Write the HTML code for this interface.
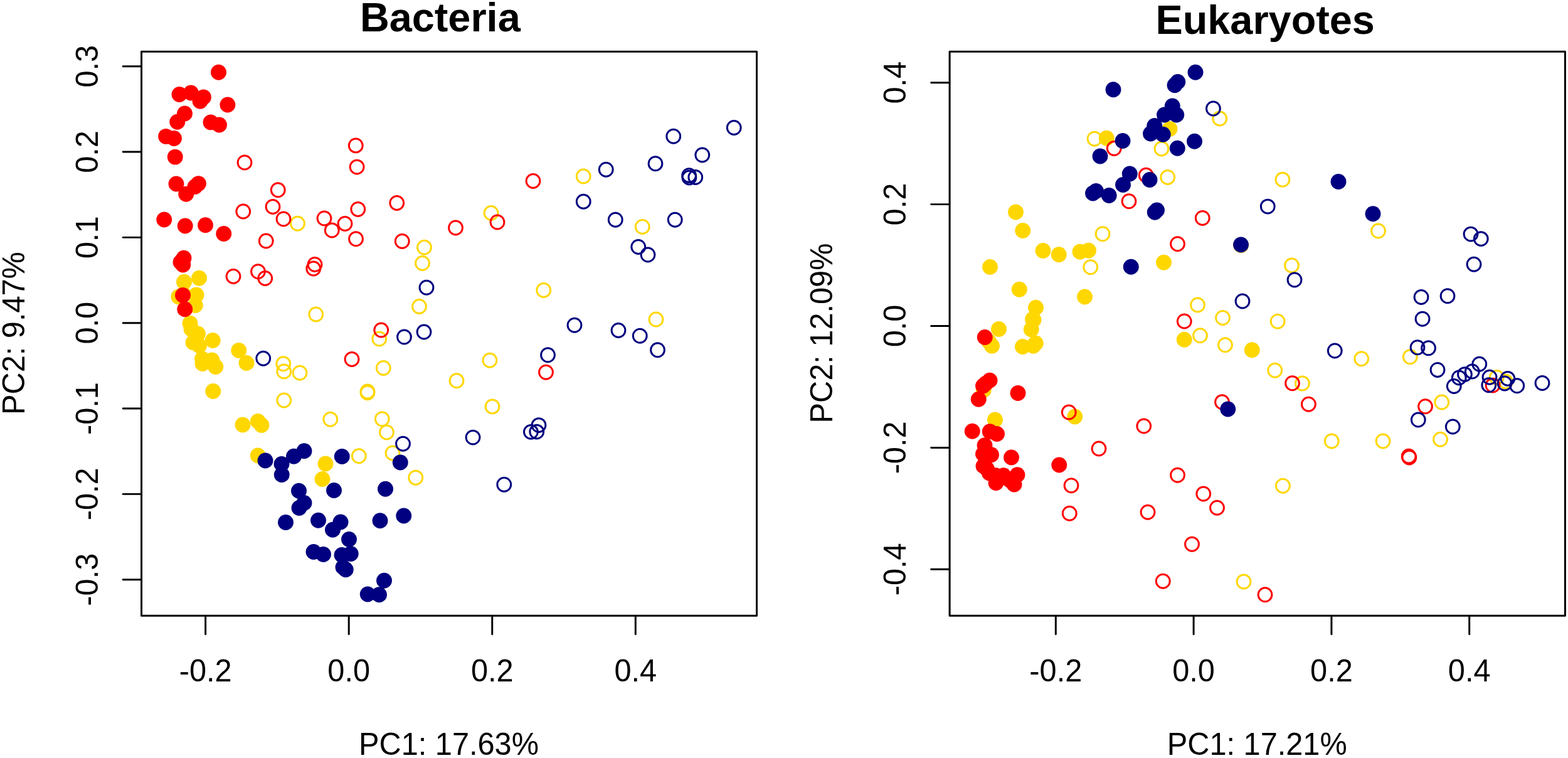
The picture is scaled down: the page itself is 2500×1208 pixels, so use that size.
<!DOCTYPE html>
<html lang="en"><head><meta charset="utf-8"><title>PCoA: Bacteria and Eukaryotes</title>
<style>
html,body{margin:0;padding:0;background:#fff;}
body{width:2500px;height:1208px;overflow:hidden;}
svg{display:block;}
text{font-family:"Liberation Sans",sans-serif;fill:#000;}
</style></head><body>
<svg width="2500" height="1208" viewBox="0 0 2500 1208">
<rect width="2500" height="1208" fill="#fff"/>
<g id="bacteria">
<g fill="#FFD700">
<circle cx="317.5" cy="443.25" r="12.45"/>
<circle cx="293.5" cy="449.25" r="12.45"/>
<circle cx="284.9" cy="472.9" r="12.45"/>
<circle cx="292.6" cy="469.1" r="12.45"/>
<circle cx="313" cy="470" r="12.45"/>
<circle cx="311.25" cy="486.5" r="12.45"/>
<circle cx="303" cy="515.25" r="12.45"/>
<circle cx="305" cy="524.5" r="12.45"/>
<circle cx="315.5" cy="532" r="12.45"/>
<circle cx="339.25" cy="542.5" r="12.45"/>
<circle cx="308" cy="545.75" r="12.45"/>
<circle cx="317.5" cy="550.75" r="12.45"/>
<circle cx="380.75" cy="558.5" r="12.45"/>
<circle cx="322.5" cy="572" r="12.45"/>
<circle cx="338" cy="574" r="12.45"/>
<circle cx="323" cy="579.5" r="12.45"/>
<circle cx="343.75" cy="584.5" r="12.45"/>
<circle cx="393" cy="578.5" r="12.45"/>
<circle cx="339.75" cy="623.5" r="12.45"/>
<circle cx="387" cy="677" r="12.45"/>
<circle cx="411.25" cy="671.5" r="12.45"/>
<circle cx="417" cy="677.5" r="12.45"/>
<circle cx="411.25" cy="726" r="12.45"/>
<circle cx="519" cy="739" r="12.45"/>
<circle cx="514" cy="763.5" r="12.45"/>
</g>
<g fill="none" stroke="#FFD700" stroke-width="3.0">
<circle cx="474.5" cy="356.25" r="10.9"/>
<circle cx="783" cy="339.5" r="10.9"/>
<circle cx="930.25" cy="281" r="10.9"/>
<circle cx="1024.25" cy="361.5" r="10.9"/>
<circle cx="676.5" cy="394.25" r="10.9"/>
<circle cx="673.5" cy="419.5" r="10.9"/>
<circle cx="668.5" cy="488.5" r="10.9"/>
<circle cx="503.75" cy="501" r="10.9"/>
<circle cx="604.75" cy="540" r="10.9"/>
<circle cx="451.75" cy="579.75" r="10.9"/>
<circle cx="452.75" cy="592" r="10.9"/>
<circle cx="478" cy="594.25" r="10.9"/>
<circle cx="611.25" cy="586.5" r="10.9"/>
<circle cx="780.9" cy="574.25" r="10.9"/>
<circle cx="728" cy="606.75" r="10.9"/>
<circle cx="586" cy="624" r="10.9"/>
<circle cx="586" cy="625.8" r="10.9"/>
<circle cx="452.75" cy="638" r="10.9"/>
<circle cx="785" cy="647.9" r="10.9"/>
<circle cx="526.75" cy="668.25" r="10.9"/>
<circle cx="609.25" cy="667.75" r="10.9"/>
<circle cx="616.5" cy="689" r="10.9"/>
<circle cx="572.25" cy="726.75" r="10.9"/>
<circle cx="626" cy="722" r="10.9"/>
<circle cx="662.75" cy="761.25" r="10.9"/>
<circle cx="866.75" cy="462.5" r="10.9"/>
<circle cx="1046" cy="509" r="10.9"/>
</g>
<g fill="#FF0000">
<circle cx="348.5" cy="115.25" r="12.45"/>
<circle cx="286" cy="150.5" r="12.45"/>
<circle cx="304.4" cy="148" r="12.45"/>
<circle cx="324.4" cy="154.9" r="12.45"/>
<circle cx="319.1" cy="161.25" r="12.45"/>
<circle cx="362.9" cy="167" r="12.45"/>
<circle cx="294.5" cy="181" r="12.45"/>
<circle cx="282.75" cy="194.25" r="12.45"/>
<circle cx="336" cy="194.9" r="12.45"/>
<circle cx="349.5" cy="199" r="12.45"/>
<circle cx="264.6" cy="217.4" r="12.45"/>
<circle cx="277.5" cy="220.5" r="12.45"/>
<circle cx="279.25" cy="250.1" r="12.45"/>
<circle cx="281" cy="293" r="12.45"/>
<circle cx="316.4" cy="292.6" r="12.45"/>
<circle cx="311" cy="297.5" r="12.45"/>
<circle cx="296.75" cy="309.25" r="12.45"/>
<circle cx="261.75" cy="350" r="12.45"/>
<circle cx="295.25" cy="360" r="12.45"/>
<circle cx="327.5" cy="358.75" r="12.45"/>
<circle cx="356.75" cy="372.5" r="12.45"/>
<circle cx="293" cy="411.25" r="12.45"/>
<circle cx="288" cy="417.75" r="12.45"/>
<circle cx="291.75" cy="422" r="12.45"/>
<circle cx="291.5" cy="470.5" r="12.45"/>
<circle cx="294.75" cy="492.75" r="12.45"/>
</g>
<g fill="none" stroke="#FF0000" stroke-width="3.0">
<circle cx="390" cy="259" r="10.9"/>
<circle cx="567.25" cy="231.9" r="10.9"/>
<circle cx="569.1" cy="266.1" r="10.9"/>
<circle cx="443.25" cy="302.75" r="10.9"/>
<circle cx="632.75" cy="323.5" r="10.9"/>
<circle cx="387.75" cy="337" r="10.9"/>
<circle cx="435" cy="329.5" r="10.9"/>
<circle cx="452" cy="349" r="10.9"/>
<circle cx="570.75" cy="333.5" r="10.9"/>
<circle cx="517" cy="348" r="10.9"/>
<circle cx="550" cy="356.5" r="10.9"/>
<circle cx="529.25" cy="367" r="10.9"/>
<circle cx="726.5" cy="363" r="10.9"/>
<circle cx="793" cy="354" r="10.9"/>
<circle cx="424.25" cy="384" r="10.9"/>
<circle cx="567.5" cy="380.75" r="10.9"/>
<circle cx="641.25" cy="384.5" r="10.9"/>
<circle cx="850" cy="288.5" r="10.9"/>
<circle cx="372" cy="440.5" r="10.9"/>
<circle cx="411.5" cy="432.75" r="10.9"/>
<circle cx="422.75" cy="443.5" r="10.9"/>
<circle cx="502" cy="421.5" r="10.9"/>
<circle cx="499.75" cy="428" r="10.9"/>
<circle cx="607.75" cy="526" r="10.9"/>
<circle cx="561" cy="572.5" r="10.9"/>
<circle cx="870.5" cy="593.25" r="10.9"/>
</g>
<g fill="#000080">
<circle cx="423" cy="734" r="12.45"/>
<circle cx="485" cy="718.75" r="12.45"/>
<circle cx="468.5" cy="727.25" r="12.45"/>
<circle cx="449" cy="739.5" r="12.45"/>
<circle cx="449.25" cy="756.5" r="12.45"/>
<circle cx="545.25" cy="727.5" r="12.45"/>
<circle cx="638.25" cy="737" r="12.45"/>
<circle cx="476.5" cy="782.25" r="12.45"/>
<circle cx="532.5" cy="781.5" r="12.45"/>
<circle cx="614.5" cy="779.25" r="12.45"/>
<circle cx="485" cy="801.5" r="12.45"/>
<circle cx="477" cy="809.5" r="12.45"/>
<circle cx="455.5" cy="832.5" r="12.45"/>
<circle cx="507.5" cy="829.25" r="12.45"/>
<circle cx="543" cy="832" r="12.45"/>
<circle cx="530.5" cy="844.25" r="12.45"/>
<circle cx="606" cy="829.75" r="12.45"/>
<circle cx="643.75" cy="822" r="12.45"/>
<circle cx="556.5" cy="859.5" r="12.45"/>
<circle cx="500" cy="879.5" r="12.45"/>
<circle cx="515.5" cy="883.5" r="12.45"/>
<circle cx="545" cy="884.5" r="12.45"/>
<circle cx="559.25" cy="882.5" r="12.45"/>
<circle cx="547" cy="904" r="12.45"/>
<circle cx="551.25" cy="907.75" r="12.45"/>
<circle cx="612.5" cy="925.25" r="12.45"/>
<circle cx="586.25" cy="947" r="12.45"/>
<circle cx="604.5" cy="947.75" r="12.45"/>
</g>
<g fill="none" stroke="#000080" stroke-width="3.0">
<circle cx="1170.25" cy="203.5" r="10.9"/>
<circle cx="1073.75" cy="217.25" r="10.9"/>
<circle cx="1119.75" cy="247" r="10.9"/>
<circle cx="1045" cy="260.75" r="10.9"/>
<circle cx="966.25" cy="270.25" r="10.9"/>
<circle cx="1098.6" cy="279.7" r="10.9"/>
<circle cx="1098.9" cy="283.1" r="10.9"/>
<circle cx="1108.75" cy="282.5" r="10.9"/>
<circle cx="930.25" cy="321.25" r="10.9"/>
<circle cx="981.25" cy="350.25" r="10.9"/>
<circle cx="1076.25" cy="350.25" r="10.9"/>
<circle cx="680" cy="458.25" r="10.9"/>
<circle cx="676" cy="529" r="10.9"/>
<circle cx="644.5" cy="537" r="10.9"/>
<circle cx="419.75" cy="571.25" r="10.9"/>
<circle cx="1017.75" cy="393.5" r="10.9"/>
<circle cx="1033" cy="406" r="10.9"/>
<circle cx="916" cy="518.25" r="10.9"/>
<circle cx="986" cy="526.5" r="10.9"/>
<circle cx="1020.25" cy="535.25" r="10.9"/>
<circle cx="1048.5" cy="557.75" r="10.9"/>
<circle cx="873.5" cy="565.75" r="10.9"/>
<circle cx="859" cy="677.6" r="10.9"/>
<circle cx="846.4" cy="688.3" r="10.9"/>
<circle cx="855.75" cy="688.1" r="10.9"/>
<circle cx="642.5" cy="707.25" r="10.9"/>
<circle cx="754" cy="697.1" r="10.9"/>
<circle cx="803.75" cy="772.25" r="10.9"/>
</g>
<rect x="225.55" y="82.2" width="981.00" height="899.10" fill="none" stroke="#000" stroke-width="3" stroke-linejoin="round"/>
<line x1="327.65" y1="981.70" x2="327.65" y2="1010.70" stroke="#000" stroke-width="2.95" stroke-linecap="round"/>
<text transform="translate(327.65 1086.1) scale(1 1.02)" text-anchor="middle" font-size="48.7">-0.2</text>
<line x1="556.2" y1="981.70" x2="556.2" y2="1010.70" stroke="#000" stroke-width="2.95" stroke-linecap="round"/>
<text transform="translate(556.2 1086.1) scale(1 1.02)" text-anchor="middle" font-size="48.7">0.0</text>
<line x1="784.75" y1="981.70" x2="784.75" y2="1010.70" stroke="#000" stroke-width="2.95" stroke-linecap="round"/>
<text transform="translate(784.75 1086.1) scale(1 1.02)" text-anchor="middle" font-size="48.7">0.2</text>
<line x1="1013.3" y1="981.70" x2="1013.3" y2="1010.70" stroke="#000" stroke-width="2.95" stroke-linecap="round"/>
<text transform="translate(1013.3 1086.1) scale(1 1.02)" text-anchor="middle" font-size="48.7">0.4</text>
<line x1="225.15" y1="105.7" x2="196.15" y2="105.7" stroke="#000" stroke-width="2.95" stroke-linecap="round"/>
<text transform="translate(155.75 105.7) rotate(-90) scale(1 1.02)" text-anchor="middle" font-size="48.7">0.3</text>
<line x1="225.15" y1="242.03" x2="196.15" y2="242.03" stroke="#000" stroke-width="2.95" stroke-linecap="round"/>
<text transform="translate(155.75 242.03) rotate(-90) scale(1 1.02)" text-anchor="middle" font-size="48.7">0.2</text>
<line x1="225.15" y1="378.37" x2="196.15" y2="378.37" stroke="#000" stroke-width="2.95" stroke-linecap="round"/>
<text transform="translate(155.75 378.37) rotate(-90) scale(1 1.02)" text-anchor="middle" font-size="48.7">0.1</text>
<line x1="225.15" y1="514.7" x2="196.15" y2="514.7" stroke="#000" stroke-width="2.95" stroke-linecap="round"/>
<text transform="translate(155.75 514.7) rotate(-90) scale(1 1.02)" text-anchor="middle" font-size="48.7">0.0</text>
<line x1="225.15" y1="651.03" x2="196.15" y2="651.03" stroke="#000" stroke-width="2.95" stroke-linecap="round"/>
<text transform="translate(155.75 651.03) rotate(-90) scale(1 1.02)" text-anchor="middle" font-size="48.7">-0.1</text>
<line x1="225.15" y1="787.37" x2="196.15" y2="787.37" stroke="#000" stroke-width="2.95" stroke-linecap="round"/>
<text transform="translate(155.75 787.37) rotate(-90) scale(1 1.02)" text-anchor="middle" font-size="48.7">-0.2</text>
<line x1="225.15" y1="923.7" x2="196.15" y2="923.7" stroke="#000" stroke-width="2.95" stroke-linecap="round"/>
<text transform="translate(155.75 923.7) rotate(-90) scale(1 1.02)" text-anchor="middle" font-size="48.7">-0.3</text>
<text transform="translate(715.55 1203) scale(1 1.02)" text-anchor="middle" font-size="48.7">PC1: 17.63%</text>
<text transform="translate(38.85 531.0) rotate(-90) scale(1 1.02)" text-anchor="middle" font-size="48.7">PC2: 9.47%</text>
<text transform="translate(701.8 49.8) scale(1 1.0)" text-anchor="middle" font-size="64.8" font-weight="bold">Bacteria</text>
</g>
<g id="eukaryotes">
<g fill="#FFD700">
<circle cx="1865" cy="205.5" r="12.45"/>
<circle cx="1764.25" cy="220.25" r="12.45"/>
<circle cx="1619.5" cy="338" r="12.45"/>
<circle cx="1630.75" cy="367.5" r="12.45"/>
<circle cx="1663" cy="399.5" r="12.45"/>
<circle cx="1688.25" cy="405.75" r="12.45"/>
<circle cx="1722" cy="401.25" r="12.45"/>
<circle cx="1735.5" cy="399.25" r="12.45"/>
<circle cx="1578.5" cy="425.5" r="12.45"/>
<circle cx="1855.5" cy="418.25" r="12.45"/>
<circle cx="1625.25" cy="461.25" r="12.45"/>
<circle cx="1729.5" cy="473" r="12.45"/>
<circle cx="1651.5" cy="490.25" r="12.45"/>
<circle cx="1646.5" cy="508.8" r="12.45"/>
<circle cx="1648" cy="509.8" r="12.45"/>
<circle cx="1644.25" cy="525" r="12.45"/>
<circle cx="1592.5" cy="524.5" r="12.45"/>
<circle cx="1651.25" cy="547" r="12.45"/>
<circle cx="1647.5" cy="551.25" r="12.45"/>
<circle cx="1630.5" cy="552.5" r="12.45"/>
<circle cx="1581.5" cy="551.25" r="12.45"/>
<circle cx="1576.8" cy="544.5" r="12.45"/>
<circle cx="1888.25" cy="541.25" r="12.45"/>
<circle cx="1996.25" cy="557.75" r="12.45"/>
<circle cx="1713.75" cy="664" r="12.45"/>
<circle cx="1586.5" cy="669" r="12.45"/>
<circle cx="1568.2" cy="621.8" r="12.45"/>
<circle cx="1978.6" cy="390.8" r="12.45"/>
</g>
<g fill="none" stroke="#FFD700" stroke-width="3.0">
<circle cx="1745" cy="221.25" r="10.9"/>
<circle cx="1944.75" cy="189" r="10.9"/>
<circle cx="1852" cy="237" r="10.9"/>
<circle cx="1861.75" cy="282.5" r="10.9"/>
<circle cx="2044.9" cy="286.25" r="10.9"/>
<circle cx="1758" cy="372.75" r="10.9"/>
<circle cx="2197.5" cy="368" r="10.9"/>
<circle cx="1738.75" cy="425.75" r="10.9"/>
<circle cx="2059.5" cy="423" r="10.9"/>
<circle cx="1909.5" cy="486" r="10.9"/>
<circle cx="1949.5" cy="506.5" r="10.9"/>
<circle cx="2037.1" cy="512.25" r="10.9"/>
<circle cx="1913.5" cy="534.75" r="10.9"/>
<circle cx="1953.5" cy="549.75" r="10.9"/>
<circle cx="2032.75" cy="590.25" r="10.9"/>
<circle cx="2076.4" cy="611" r="10.9"/>
<circle cx="2170.75" cy="571.75" r="10.9"/>
<circle cx="2248.25" cy="568.75" r="10.9"/>
<circle cx="2386.3" cy="601.4" r="10.9"/>
<circle cx="2400.6" cy="608.1" r="10.9"/>
<circle cx="2298.75" cy="641" r="10.9"/>
<circle cx="2123.25" cy="703" r="10.9"/>
<circle cx="2205" cy="703" r="10.9"/>
<circle cx="2296.5" cy="700.25" r="10.9"/>
<circle cx="2045.4" cy="774.25" r="10.9"/>
<circle cx="1983" cy="927" r="10.9"/>
</g>
<g fill="#FF0000">
<circle cx="1570.25" cy="537.5" r="12.45"/>
<circle cx="1578" cy="606.25" r="12.45"/>
<circle cx="1571.6" cy="611.3" r="12.45"/>
<circle cx="1567.5" cy="615" r="12.45"/>
<circle cx="1560.25" cy="636.25" r="12.45"/>
<circle cx="1623" cy="626.5" r="12.45"/>
<circle cx="1550.25" cy="687.25" r="12.45"/>
<circle cx="1578.25" cy="687.75" r="12.45"/>
<circle cx="1589.5" cy="691.5" r="12.45"/>
<circle cx="1570" cy="709.75" r="12.45"/>
<circle cx="1567.5" cy="723.5" r="12.45"/>
<circle cx="1580.5" cy="724.75" r="12.45"/>
<circle cx="1612.5" cy="729" r="12.45"/>
<circle cx="1568" cy="742.75" r="12.45"/>
<circle cx="1573" cy="746.5" r="12.45"/>
<circle cx="1577.5" cy="754" r="12.45"/>
<circle cx="1587.5" cy="757.75" r="12.45"/>
<circle cx="1600" cy="757.75" r="12.45"/>
<circle cx="1622" cy="756.75" r="12.45"/>
<circle cx="1588" cy="769.5" r="12.45"/>
<circle cx="1617" cy="772" r="12.45"/>
<circle cx="1610" cy="765.25" r="12.45"/>
<circle cx="1688.75" cy="741" r="12.45"/>
</g>
<g fill="none" stroke="#FF0000" stroke-width="3.0">
<circle cx="1776.25" cy="236.5" r="10.9"/>
<circle cx="1827.25" cy="279.25" r="10.9"/>
<circle cx="1800" cy="320.75" r="10.9"/>
<circle cx="1917.25" cy="347.5" r="10.9"/>
<circle cx="1877.5" cy="388.75" r="10.9"/>
<circle cx="1888.25" cy="512" r="10.9"/>
<circle cx="2060.5" cy="610.75" r="10.9"/>
<circle cx="1948.5" cy="640.75" r="10.9"/>
<circle cx="2086.4" cy="644.25" r="10.9"/>
<circle cx="1704.25" cy="657" r="10.9"/>
<circle cx="1823.75" cy="679" r="10.9"/>
<circle cx="2380" cy="614.1" r="10.9"/>
<circle cx="2272.5" cy="647.75" r="10.9"/>
<circle cx="2246.15" cy="727.15" r="10.9"/>
<circle cx="2246.85" cy="729.1" r="10.9"/>
<circle cx="1752" cy="715" r="10.9"/>
<circle cx="1877.5" cy="757.25" r="10.9"/>
<circle cx="1708" cy="773.75" r="10.9"/>
<circle cx="1918.75" cy="787" r="10.9"/>
<circle cx="1940.5" cy="809.25" r="10.9"/>
<circle cx="1705.25" cy="818.25" r="10.9"/>
<circle cx="1830" cy="816.25" r="10.9"/>
<circle cx="1900.5" cy="867.25" r="10.9"/>
<circle cx="1854.25" cy="926.25" r="10.9"/>
<circle cx="2017" cy="947.75" r="10.9"/>
</g>
<g fill="#000080">
<circle cx="1906" cy="115.25" r="12.45"/>
<circle cx="1877.75" cy="130.5" r="12.45"/>
<circle cx="1873" cy="135.75" r="12.45"/>
<circle cx="1775" cy="142.75" r="12.45"/>
<circle cx="1869.25" cy="169" r="12.45"/>
<circle cx="1856.5" cy="183" r="12.45"/>
<circle cx="1875.75" cy="183" r="12.45"/>
<circle cx="1840.75" cy="200.5" r="12.45"/>
<circle cx="1834.5" cy="213" r="12.45"/>
<circle cx="1854.25" cy="214.25" r="12.45"/>
<circle cx="1790" cy="224.5" r="12.45"/>
<circle cx="1904.5" cy="225.25" r="12.45"/>
<circle cx="1877.25" cy="236.25" r="12.45"/>
<circle cx="1754" cy="249" r="12.45"/>
<circle cx="1801.25" cy="277" r="12.45"/>
<circle cx="1833" cy="286.5" r="12.45"/>
<circle cx="1790.5" cy="294.5" r="12.45"/>
<circle cx="1747.5" cy="304.5" r="12.45"/>
<circle cx="1742.5" cy="308" r="12.45"/>
<circle cx="1768.25" cy="311.5" r="12.45"/>
<circle cx="1844.5" cy="335" r="12.45"/>
<circle cx="1841.25" cy="338.25" r="12.45"/>
<circle cx="2134" cy="289.5" r="12.45"/>
<circle cx="2189" cy="340.75" r="12.45"/>
<circle cx="1803.25" cy="425.25" r="12.45"/>
<circle cx="1978.5" cy="390" r="12.45"/>
<circle cx="1957.75" cy="652" r="12.45"/>
</g>
<g fill="none" stroke="#000080" stroke-width="3.0">
<circle cx="1934.4" cy="173" r="10.9"/>
<circle cx="2021.25" cy="329.1" r="10.9"/>
<circle cx="2345" cy="373.1" r="10.9"/>
<circle cx="2361.25" cy="380.6" r="10.9"/>
<circle cx="2350" cy="421.25" r="10.9"/>
<circle cx="2064" cy="446" r="10.9"/>
<circle cx="1981" cy="480" r="10.9"/>
<circle cx="2266" cy="473.5" r="10.9"/>
<circle cx="2308" cy="471.75" r="10.9"/>
<circle cx="2268" cy="508.25" r="10.9"/>
<circle cx="2260" cy="553.75" r="10.9"/>
<circle cx="2277.5" cy="554.75" r="10.9"/>
<circle cx="2128.25" cy="559" r="10.9"/>
<circle cx="2292" cy="589.5" r="10.9"/>
<circle cx="2358.75" cy="580.25" r="10.9"/>
<circle cx="2347.25" cy="592" r="10.9"/>
<circle cx="2335.4" cy="596.6" r="10.9"/>
<circle cx="2326.25" cy="602" r="10.9"/>
<circle cx="2318.25" cy="615.5" r="10.9"/>
<circle cx="2375" cy="601.25" r="10.9"/>
<circle cx="2373.75" cy="613.75" r="10.9"/>
<circle cx="2403.8" cy="603.3" r="10.9"/>
<circle cx="2399" cy="611" r="10.9"/>
<circle cx="2418.75" cy="614.75" r="10.9"/>
<circle cx="2459" cy="610.5" r="10.9"/>
<circle cx="2261.25" cy="669" r="10.9"/>
<circle cx="2316.25" cy="680" r="10.9"/>
</g>
<rect x="1514.1" y="82.2" width="981.30" height="899.10" fill="none" stroke="#000" stroke-width="3" stroke-linejoin="round"/>
<line x1="1683.3" y1="981.70" x2="1683.3" y2="1010.70" stroke="#000" stroke-width="2.95" stroke-linecap="round"/>
<text transform="translate(1683.3 1086.1) scale(1 1.02)" text-anchor="middle" font-size="48.7">-0.2</text>
<line x1="1903.1" y1="981.70" x2="1903.1" y2="1010.70" stroke="#000" stroke-width="2.95" stroke-linecap="round"/>
<text transform="translate(1903.1 1086.1) scale(1 1.02)" text-anchor="middle" font-size="48.7">0.0</text>
<line x1="2122.9" y1="981.70" x2="2122.9" y2="1010.70" stroke="#000" stroke-width="2.95" stroke-linecap="round"/>
<text transform="translate(2122.9 1086.1) scale(1 1.02)" text-anchor="middle" font-size="48.7">0.2</text>
<line x1="2342.7" y1="981.70" x2="2342.7" y2="1010.70" stroke="#000" stroke-width="2.95" stroke-linecap="round"/>
<text transform="translate(2342.7 1086.1) scale(1 1.02)" text-anchor="middle" font-size="48.7">0.4</text>
<line x1="1513.70" y1="131.7" x2="1484.70" y2="131.7" stroke="#000" stroke-width="2.95" stroke-linecap="round"/>
<text transform="translate(1444.30 131.7) rotate(-90) scale(1 1.02)" text-anchor="middle" font-size="48.7">0.4</text>
<line x1="1513.70" y1="325.6" x2="1484.70" y2="325.6" stroke="#000" stroke-width="2.95" stroke-linecap="round"/>
<text transform="translate(1444.30 325.6) rotate(-90) scale(1 1.02)" text-anchor="middle" font-size="48.7">0.2</text>
<line x1="1513.70" y1="519.5" x2="1484.70" y2="519.5" stroke="#000" stroke-width="2.95" stroke-linecap="round"/>
<text transform="translate(1444.30 519.5) rotate(-90) scale(1 1.02)" text-anchor="middle" font-size="48.7">0.0</text>
<line x1="1513.70" y1="713.4" x2="1484.70" y2="713.4" stroke="#000" stroke-width="2.95" stroke-linecap="round"/>
<text transform="translate(1444.30 713.4) rotate(-90) scale(1 1.02)" text-anchor="middle" font-size="48.7">-0.2</text>
<line x1="1513.70" y1="907.3" x2="1484.70" y2="907.3" stroke="#000" stroke-width="2.95" stroke-linecap="round"/>
<text transform="translate(1444.30 907.3) rotate(-90) scale(1 1.02)" text-anchor="middle" font-size="48.7">-0.4</text>
<text transform="translate(2004.25 1203) scale(1 1.02)" text-anchor="middle" font-size="48.7">PC1: 17.21%</text>
<text transform="translate(1327.40 531.0) rotate(-90) scale(1 1.02)" text-anchor="middle" font-size="48.7">PC2: 12.09%</text>
<text transform="translate(2017.2 53.7) scale(1 1.0)" text-anchor="middle" font-size="64.8" font-weight="bold">Eukaryotes</text>
</g>
</svg>
</body></html>
